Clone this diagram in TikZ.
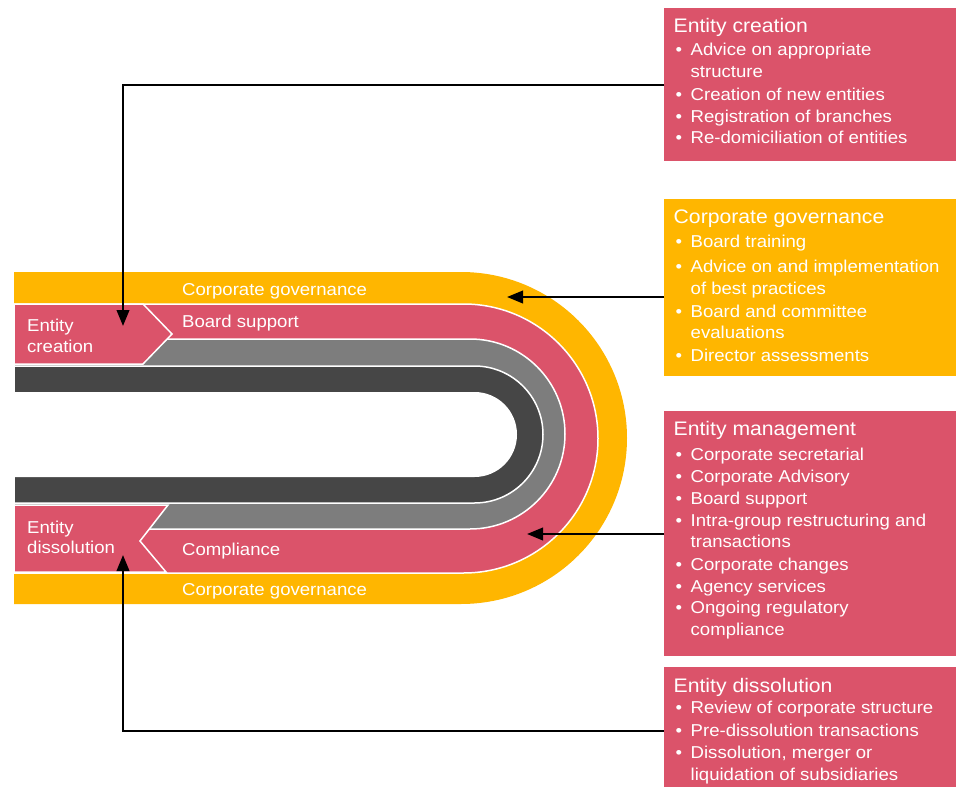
\documentclass[tikz,border=0pt]{standalone}
\usepackage{fontspec}
\setmainfont{Liberation Sans}[FakeStretch=1.08]
\usetikzlibrary{arrows.meta}
\definecolor{pwcred}{HTML}{DB536A}
\definecolor{pwcyel}{HTML}{FFB600}
\definecolor{dkgray}{HTML}{464646}
\definecolor{mdgray}{HTML}{7D7D7D}
\newcommand\bodysize{\fontsize{17.2}{21}\selectfont}
\newcommand\headsize{\fontsize{19.6}{24}\selectfont}
\newcommand\bul{\llap{\textbullet\hspace{8.5pt}}}
\newcommand\Dshape[3]{(14,#1) -- (#2,#1) arc[start angle=-90,end angle=90,radius=#3] -- (14,#1+2*#3) -- cycle}
\begin{document}
\begin{tikzpicture}[x=1pt,y=-1pt,
  band/.style={fill=#1, draw=white, line width=1.5pt},
  box/.style={fill=#1, draw=none, inner sep=0pt, minimum width=292pt, anchor=north west},
  hd/.style={anchor=base west, inner sep=0pt, text=white, font=\headsize},
  it/.style={anchor=base west, inner sep=0pt, text=white, font=\bodysize},
  arr/.style={draw=black, line width=2.3pt, -{Triangle[length=16pt,width=12.5pt]}}]
\useasboundingbox (0,0) rectangle (962,787);
\begin{scope}
\clip (0,0) rectangle (962,787);
% track
\fill[pwcyel] \Dshape{272}{461}{166};
\path[band=pwcred] \Dshape{304}{463.5}{134.5};
\path[band=mdgray] \Dshape{339}{470}{95};
\path[band=dkgray] \Dshape{366}{474.5}{68.5};
\fill[white] \Dshape{392}{474.5}{42.5};
% chevrons
\path[band=pwcred] (14,304) -- (143,304) -- (172,334) -- (143,364) -- (14,364) -- cycle;
\path[band=pwcred] (14,505) -- (168,505) -- (140,541) -- (166,572) -- (14,572) -- cycle;
% track labels
\node[it] (cgt) at (182,295) {Corporate governance};
\node[it] (bs) at (182,327) {Board support};
\node[it] (ec1) at (27,331) {Entity};
\node[it] (ec2) at (27,352) {creation};
\node[it] (ed1) at (27,533) {Entity};
\node[it] (ed2) at (27,553) {dissolution};
\node[it] (cmp) at (182,555) {Compliance};
\node[it] (cgb) at (182,595) {Corporate governance};
% boxes
\node[box=pwcred, minimum height=153pt] (b1) at (664,8) {};
\node[box=pwcyel, minimum height=177pt] (b2) at (664,199) {};
\node[box=pwcred, minimum height=245pt] (b3) at (664,411) {};
\node[box=pwcred, minimum height=128pt] (b4) at (664,667) {};
% box texts
\node[hd] (b1h) at (673.5,32) {Entity creation};
\foreach \yy/\txt [count=\i] in {56/{\bul Advice on appropriate}, 77/{structure}, 100/{\bul Creation of new entities}, 122/{\bul Registration of branches}, 143/{\bul Re-domiciliation of entities}}
  \node[it] (b1-\i) at (690.5,\yy) {\txt};
\node[hd] (b2h) at (673.5,223) {Corporate governance};
\foreach \yy/\txt [count=\i] in {247/{\bul Board training}, 272/{\bul Advice on and implementation}, 294/{of best practices}, 317/{\bul Board and committee}, 338/{evaluations}, 361/{\bul Director assessments}}
  \node[it] (b2-\i) at (690.5,\yy) {\txt};
\node[hd] (b3h) at (673.5,435) {Entity management};
\foreach \yy/\txt [count=\i] in {460/{\bul Corporate secretarial}, 482/{\bul Corporate Advisory}, 504/{\bul Board support}, 526/{\bul Intra-group restructuring and}, 547/{transactions}, 570/{\bul Corporate changes}, 592/{\bul Agency services}, 613/{\bul Ongoing regulatory}, 635/{compliance}}
  \node[it] (b3-\i) at (690.5,\yy) {\txt};
\node[hd] (b4h) at (673.5,692) {Entity dissolution};
\foreach \yy/\txt [count=\i] in {713/{\bul Review of corporate structure}, 736/{\bul Pre-dissolution transactions}, 758/{\bul Dissolution, merger or}, 780/{liquidation of subsidiaries}}
  \node[it] (b4-\i) at (690.5,\yy) {\txt};
\end{scope}
% connectors
\coordinate (tipec) at (123,326);
\coordinate (tipcg) at (507,297);
\coordinate (tipem) at (527,534);
\coordinate (tiped) at (123,555);
\draw[arr] (b1.west) -| (tipec);
\draw[arr] (b2.west |- tipcg) -- (tipcg);
\draw[arr] (b3.west |- tipem) -- (tipem);
\draw[arr] (b4.west) -| (tiped);
\end{tikzpicture}
\end{document}
